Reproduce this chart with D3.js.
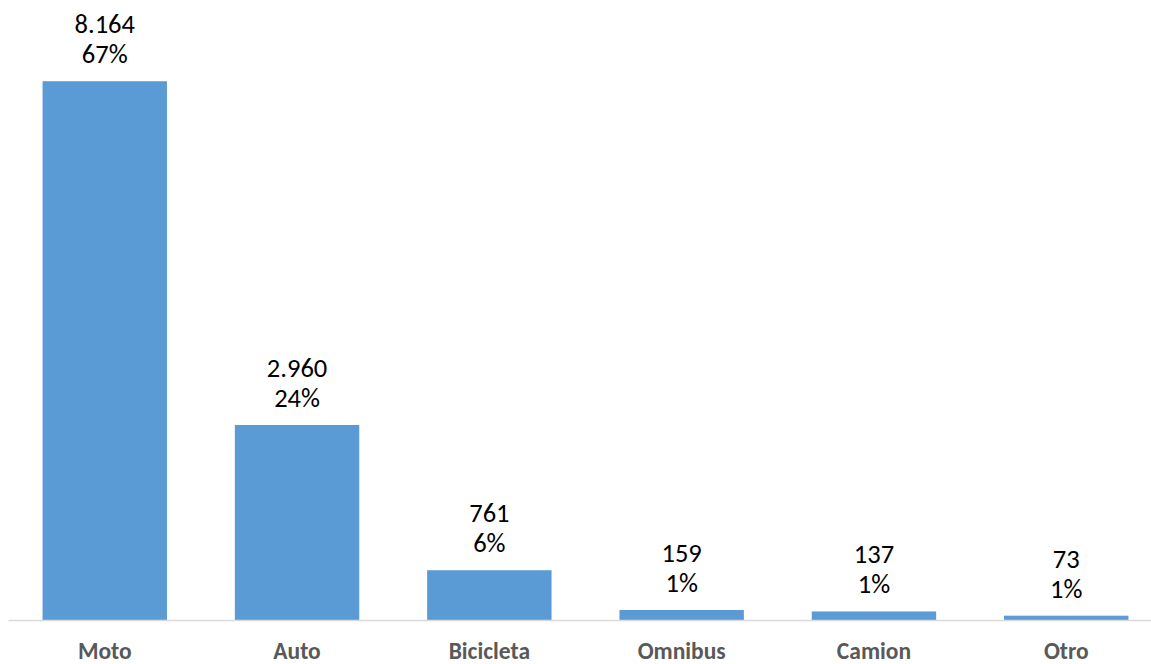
<!DOCTYPE html>
<meta charset="utf-8">
<style type="text/css">
  body { margin: 0; background: #fff; }
  .value-label { font-family: Carlito, Calibri, "Open Sans", sans-serif; font-size: 26.5px; fill: #000; }
  .cat-label { font-family: Carlito, Calibri, "Open Sans", sans-serif; font-size: 23.5px; font-weight: bold; fill: #595959; }
</style>
<body>
<div class="chart"></div>
</body>
<script src="https://d3js.org/d3.v7.min.js"></script>
<script>

// data
var categories = ["Moto", "Auto", "Bicicleta", "Omnibus", "Camion", "Otro"];
var counts = [8164, 2960, 761, 159, 137, 73];
var percents = ["67%", "24%", "6%", "1%", "1%", "1%"];

var width = 1151,
    height = 664;

var baseY = 620.5;

var svg = d3.select(".chart")
  .append("svg")
    .attr("width", width)
    .attr("height", height);

var x = d3.scaleBand()
    .domain(categories)
    .range([8.6, 1162.4])
    .paddingInner(0.353)
    .paddingOuter(0.1765);

var y = d3.scaleLinear()
    .domain([0, 9000])
    .range([baseY, 26]);

var fmt = d3.formatLocale({decimal: ",", thousands: ".", grouping: [3], currency: ["", ""]}).format(",d");

var rows = categories.map(function(c, i){
  return {cat: c, n: counts[i], pct: percents[i]};
});

// bars
svg.selectAll(".bar")
  .data(rows)
  .enter()
  .append("rect")
    .attr("class", "bar")
    .attr("x", function(d){ return x(d.cat); })
    .attr("width", x.bandwidth())
    .attr("y", function(d){ return y(d.n); })
    .attr("height", function(d){ return baseY - y(d.n); })
    .attr("fill", "#5b9bd5");

// axis line
svg.append("line")
    .attr("x1", x.range()[0])
    .attr("x2", x.range()[1])
    .attr("y1", baseY)
    .attr("y2", baseY)
    .attr("stroke", "#d9d9d9")
    .attr("stroke-width", 1.5);

// value + percent labels
var lab = svg.selectAll(".lab")
  .data(rows)
  .enter()
  .append("g")
    .attr("class", "lab")
    .attr("transform", function(d){
      return "translate(" + (x(d.cat) + x.bandwidth() / 2) + "," + y(d.n) + ")";
    });

lab.append("text")
    .attr("class", "value-label")
    .attr("text-anchor", "middle")
    .attr("y", -48)
    .text(function(d){ return fmt(d.n); });

lab.append("text")
    .attr("class", "value-label")
    .attr("text-anchor", "middle")
    .attr("y", -18)
    .text(function(d){ return d.pct; });

// category labels
svg.selectAll(".cat-label")
  .data(categories)
  .enter()
  .append("text")
    .attr("class", "cat-label")
    .attr("text-anchor", "middle")
    .attr("x", function(d){ return x(d) + x.bandwidth() / 2; })
    .attr("y", 659)
    .text(function(d){ return d; });

</script>
